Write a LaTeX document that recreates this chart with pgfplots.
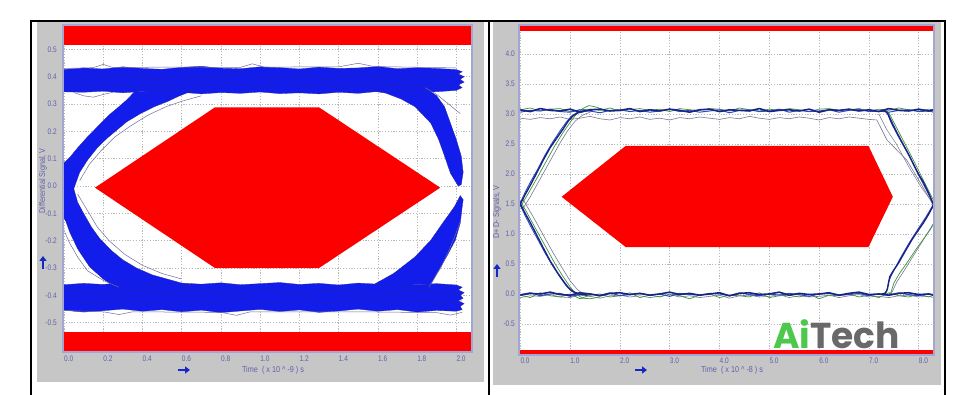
\documentclass[border=0pt]{standalone}
\usepackage{pgfplots}
\pgfplotsset{compat=1.18}
\usepackage{pgfplotstable}
\usetikzlibrary{arrows.meta}
\usepackage{fontspec}
\setmainfont{Liberation Sans}
\newfontfamily\tickfont[FakeStretch=0.82]{Liberation Sans}
\newfontfamily\labfont[FakeStretch=0.85]{Liberation Sans}
\newfontfamily\wmfont{Poppins}

\definecolor{panelgray}{RGB}{198,198,198}
\definecolor{framecol}{RGB}{165,165,212}
\definecolor{tickcol}{RGB}{96,96,170}
\definecolor{gridcol}{RGB}{185,185,185}
\definecolor{maskred}{RGB}{252,0,0}
\definecolor{eyeblue}{RGB}{18,28,235}
\definecolor{eyeedge}{RGB}{40,40,160}
\definecolor{outgray}{RGB}{110,110,155}
\definecolor{tnavy}{RGB}{25,35,130}
\definecolor{tblue}{RGB}{45,75,200}
\definecolor{tgreen}{RGB}{60,150,60}
\definecolor{tgray}{RGB}{120,120,150}
\definecolor{arrowblue}{RGB}{20,40,200}
\definecolor{aigreen}{RGB}{76,200,76}
\definecolor{aigray}{RGB}{105,105,105}

\pgfplotstableread{
t   nav  blu  grn
0.0 3.07 3.03 3.07
0.2 3.04 3.06 3.10
0.4 3.09 3.05 3.05
0.6 3.06 3.08 3.08
0.8 3.05 3.04 3.09
1.0 3.08 3.03 3.04
1.2 3.03 3.07 3.07
1.4 3.07 3.05 3.08
1.6 3.08 3.02 3.06
1.8 3.05 3.06 3.10
2.0 3.06 3.07 3.05
2.2 3.09 3.04 3.07
2.4 3.04 3.06 3.09
2.6 3.07 3.03 3.06
2.8 3.05 3.05 3.08
3.0 3.08 3.08 3.04
3.2 3.06 3.04 3.09
3.4 3.03 3.06 3.07
3.6 3.07 3.03 3.06
3.8 3.08 3.05 3.09
4.0 3.04 3.07 3.08
4.2 3.07 3.02 3.05
4.4 3.06 3.06 3.10
4.6 3.05 3.07 3.07
4.8 3.09 3.04 3.05
5.0 3.04 3.05 3.08
5.2 3.06 3.08 3.06
5.4 3.07 3.03 3.09
5.6 3.05 3.06 3.07
5.8 3.08 3.04 3.04
6.0 3.03 3.05 3.08
6.2 3.07 3.07 3.09
6.4 3.06 3.03 3.06
6.6 3.08 3.06 3.07
6.8 3.05 3.08 3.09
7.0 3.07 3.04 3.05
7.2 3.04 3.05 3.08
7.4 3.09 3.03 3.06
7.6 3.06 3.06 3.10
7.8 3.05 3.07 3.07
8.0 3.08 3.04 3.05
8.2 3.05 3.05 3.08
8.3 3.07 3.03 3.07
}\toptab

\pgfplotstableread{
t   nav   blu   grn   gry
0.0 -0.02 -0.01 -0.02 -0.06
0.2 0.01 0.02 -0.06 -0.03
0.4 0.00 -0.03 0.02 -0.04
0.6 0.03 0.00 -0.03 -0.01
0.8 -0.01 0.01 -0.05 -0.05
1.0 -0.02 -0.04 0.00 -0.06
1.2 0.02 -0.01 -0.08 -0.02
1.4 0.00 0.00 -0.02 -0.04
1.6 -0.03 -0.02 0.00 -0.07
1.8 0.01 0.02 -0.05 -0.03
2.0 0.02 -0.03 -0.03 -0.02
2.2 -0.01 -0.01 0.02 -0.05
2.4 0.01 0.01 -0.06 -0.03
2.6 -0.02 -0.02 -0.02 -0.06
2.8 0.00 0.00 -0.05 -0.04
3.0 0.03 -0.04 0.00 -0.01
3.2 -0.01 0.01 -0.03 -0.05
3.4 0.01 -0.01 -0.08 -0.03
3.6 -0.02 -0.02 -0.02 -0.06
3.8 0.00 0.01 0.00 -0.04
4.0 0.02 0.00 -0.06 -0.02
4.2 -0.03 -0.03 -0.02 -0.07
4.4 0.01 0.02 -0.03 -0.03
4.6 0.02 -0.01 -0.05 -0.02
4.8 -0.01 -0.03 0.02 -0.05
5.0 0.00 0.00 -0.06 -0.04
5.2 0.03 -0.02 -0.03 -0.01
5.4 -0.02 0.01 -0.02 -0.06
5.6 0.01 -0.01 -0.05 -0.03
5.8 -0.01 -0.04 0.00 -0.05
6.0 0.00 0.00 -0.08 -0.04
6.2 0.02 0.01 -0.02 -0.02
6.4 -0.02 -0.02 -0.03 -0.06
6.6 0.01 -0.01 0.00 -0.03
6.8 0.03 0.01 -0.05 -0.01
7.0 -0.01 -0.03 -0.02 -0.05
7.2 0.00 0.00 -0.06 -0.04
7.4 -0.02 -0.02 0.02 -0.06
7.6 0.01 0.02 -0.03 -0.03
7.8 0.02 -0.01 -0.05 -0.02
8.0 -0.01 -0.03 0.00 -0.05
8.2 0.00 0.00 -0.05 -0.04
8.3 -0.02 -0.01 -0.02 -0.06
}\bottab

\pgfplotsset{eyeaxis/.style={
  scale only axis,
  axis line style={draw=none},
  tick style={draw=none},
  grid=major,
  major grid style={gridcol, line width=0.5pt, dash pattern=on 1.2pt off 1.6pt},
  axis background/.style={fill=white},
  ticklabel style={font=\tickfont\fontsize{8}{9}\selectfont, text=tickcol},
  xticklabel style={anchor=north west, inner sep=0pt, yshift=-4pt},
}}

\begin{document}
\begin{tikzpicture}
\useasboundingbox (0,0) rectangle (964pt,395pt);
\fill[white] (0,0) rectangle (964pt,395pt);
\fill[panelgray] (37pt,13pt) rectangle (484pt,373pt);
\fill[panelgray] (493pt,10pt) rectangle (941pt,373pt);
\draw[black, line width=1.3pt] (31pt,0pt) -- (31pt,374pt) -- (945pt,374pt) -- (945pt,0pt);
\draw[black, line width=1.3pt] (489pt,0pt) -- (489pt,374pt);

% ---------------- left: differential eye ----------------
\begin{axis}[eyeaxis, at={(63pt,43pt)}, anchor=south west, width=409pt, height=327pt,
  xmin=-0.005, xmax=2.08, ymin=-0.607, ymax=0.589,
  xtick={0,0.2,0.4,0.6,0.8,1.0,1.2,1.4,1.6,1.8,2.0},
  xticklabels={0.0,0.2,0.4,0.6,0.8,1.0,1.2,1.4,1.6,1.8,2.0},
  ytick={-0.5,-0.4,-0.3,-0.2,-0.1,0,0.1,0.2,0.3,0.4,0.5},
  yticklabels={-0.5,-0.4,-0.3,-0.2,-0.1,0.0,0.1,0.2,0.3,0.4,0.5},
  yticklabel style={anchor=east, inner sep=0pt, xshift=-6pt}]
\addplot[fill=maskred, draw=none] coordinates {(-0.02,0.516) (2.1,0.516) (2.1,0.62) (-0.02,0.62)} -- cycle;
\addplot[fill=maskred, draw=none] coordinates {(-0.02,-0.534) (2.1,-0.534) (2.1,-0.63) (-0.02,-0.63)} -- cycle;
\addplot[fill=maskred, draw=none] coordinates {(0.158,-0.006) (0.77,0.288) (1.30,0.288) (1.918,-0.006) (1.30,-0.300) (0.77,-0.300)} -- cycle;
% top rail
\addplot[fill=eyeblue, draw=eyeedge, line width=0.3pt] coordinates {
(-0.02,0.425) (0.1,0.432) (0.2,0.428) (0.3,0.436) (0.4,0.430) (0.5,0.427) (0.6,0.434) (0.7,0.438) (0.8,0.431) (0.9,0.429) (1.0,0.436) (1.1,0.433) (1.2,0.428) (1.3,0.435) (1.4,0.430) (1.5,0.432) (1.6,0.437) (1.7,0.429) (1.8,0.433) (1.9,0.430) (2.0,0.426)
(2.03,0.418) (2.01,0.41) (2.04,0.40) (2.02,0.39) (2.04,0.38) (2.01,0.37) (2.03,0.36) (2.0,0.35)
(1.9,0.345) (1.8,0.343) (1.7,0.341) (1.6,0.346) (1.5,0.339) (1.4,0.343) (1.3,0.337) (1.2,0.341) (1.1,0.338) (1.0,0.344) (0.9,0.339) (0.8,0.342) (0.7,0.337) (0.6,0.343) (0.5,0.340) (0.4,0.346) (0.3,0.341) (0.2,0.347) (0.1,0.343) (-0.02,0.345)} -- cycle;
% bottom rail
\addplot[fill=eyeblue, draw=eyeedge, line width=0.3pt] coordinates {
(-0.02,-0.362) (0.1,-0.356) (0.2,-0.360) (0.3,-0.353) (0.4,-0.358) (0.5,-0.362) (0.6,-0.355) (0.7,-0.359) (0.8,-0.354) (0.9,-0.361) (1.0,-0.357) (1.1,-0.353) (1.2,-0.360) (1.3,-0.356) (1.4,-0.362) (1.5,-0.355) (1.6,-0.359) (1.7,-0.354) (1.8,-0.361) (1.9,-0.357) (2.0,-0.362)
(2.03,-0.37) (2.01,-0.38) (2.04,-0.39) (2.02,-0.40) (2.035,-0.41) (2.01,-0.42) (2.04,-0.43) (2.02,-0.44) (2.03,-0.452) (2.0,-0.458)
(1.9,-0.455) (1.8,-0.461) (1.7,-0.452) (1.6,-0.458) (1.5,-0.450) (1.4,-0.457) (1.3,-0.462) (1.2,-0.453) (1.1,-0.459) (1.0,-0.451) (0.9,-0.457) (0.8,-0.463) (0.7,-0.454) (0.6,-0.460) (0.5,-0.452) (0.4,-0.458) (0.3,-0.450) (0.2,-0.456) (0.1,-0.461) (-0.02,-0.453)} -- cycle;
% left crossing arms
\addplot[fill=eyeblue, draw=eyeedge, line width=0.3pt] coordinates {
(0.36,0.345) (0.32,0.315) (0.28,0.29) (0.23,0.26) (0.175,0.22) (0.12,0.18) (0.07,0.14) (0.03,0.105) (-0.02,0.07)
(-0.02,-0.09) (0.01,-0.13) (0.03,-0.17) (0.07,-0.23) (0.13,-0.295) (0.2,-0.34) (0.25,-0.365)
(0.65,-0.365) (0.55,-0.345) (0.45,-0.325) (0.37,-0.30) (0.30,-0.27) (0.24,-0.235) (0.18,-0.19) (0.14,-0.15) (0.10,-0.10) (0.07,-0.06) (0.05,-0.01)
(0.08,0.05) (0.12,0.095) (0.17,0.14) (0.22,0.175) (0.27,0.205) (0.32,0.235) (0.39,0.265) (0.46,0.29) (0.53,0.31) (0.58,0.327) (0.66,0.35)} -- cycle;
% right arms
\addplot[fill=eyeblue, draw=eyeedge, line width=0.3pt] coordinates {
(1.55,0.35) (1.64,0.34) (1.72,0.318) (1.79,0.29) (1.87,0.23) (1.91,0.17) (1.94,0.11) (1.97,0.047) (2.01,0.0) (2.025,0.005)
(2.035,0.05) (2.025,0.11) (2.0,0.17) (1.97,0.23) (1.94,0.29) (1.90,0.33) (1.86,0.35)} -- cycle;
\addplot[fill=eyeblue, draw=eyeedge, line width=0.3pt] coordinates {
(1.58,-0.36) (1.68,-0.32) (1.79,-0.259) (1.87,-0.198) (1.93,-0.136) (1.99,-0.076) (2.02,-0.035)
(2.035,-0.05) (2.03,-0.076) (2.02,-0.136) (1.995,-0.198) (1.95,-0.259) (1.90,-0.32) (1.87,-0.36)} -- cycle;
% texture traces inside the rails
\addplot[eyeedge, line width=0.35pt] coordinates {(0,0.40) (0.15,0.395) (0.3,0.405) (0.45,0.392) (0.6,0.403) (0.75,0.396) (0.9,0.407) (1.05,0.394) (1.2,0.402) (1.35,0.393) (1.5,0.405) (1.65,0.397) (1.8,0.404) (1.95,0.395) (2.03,0.40)};
\addplot[eyeedge, line width=0.35pt] coordinates {(0,0.368) (0.2,0.374) (0.35,0.364) (0.5,0.372) (0.7,0.366) (0.85,0.375) (1.0,0.365) (1.2,0.373) (1.4,0.366) (1.6,0.374) (1.8,0.367) (2.02,0.372)};
\addplot[eyeedge, line width=0.35pt] coordinates {(0,-0.42) (0.15,-0.426) (0.3,-0.415) (0.45,-0.428) (0.6,-0.418) (0.75,-0.425) (0.9,-0.414) (1.05,-0.427) (1.2,-0.419) (1.35,-0.428) (1.5,-0.416) (1.65,-0.425) (1.8,-0.418) (1.95,-0.427) (2.03,-0.42)};
\addplot[eyeedge, line width=0.35pt] coordinates {(0,-0.385) (0.2,-0.392) (0.35,-0.381) (0.5,-0.39) (0.7,-0.383) (0.85,-0.393) (1.0,-0.384) (1.2,-0.391) (1.4,-0.382) (1.6,-0.392) (1.8,-0.385) (2.02,-0.39)};
% outlier traces
\addplot[outgray, line width=0.5pt] coordinates {(0.005,-0.17) (0.03,-0.21) (0.07,-0.26) (0.12,-0.31) (0.2,-0.345) (0.28,-0.37)};
\addplot[outgray, line width=0.5pt] coordinates {(0.07,-0.03) (0.12,-0.09) (0.17,-0.15) (0.23,-0.2) (0.31,-0.25) (0.4,-0.29) (0.5,-0.32) (0.6,-0.34)};
\addplot[outgray, line width=0.5pt] coordinates {(0.08,0.02) (0.13,0.08) (0.19,0.13) (0.26,0.18) (0.34,0.22) (0.43,0.26) (0.52,0.29) (0.6,0.31) (0.7,0.33)};
\addplot[outgray, line width=0.5pt] coordinates {(1.84,0.36) (1.9,0.335) (1.96,0.30) (2.02,0.265)};
\addplot[outgray, line width=0.5pt] coordinates {(1.86,-0.37) (1.92,-0.3) (1.96,-0.24) (2.0,-0.17) (2.02,-0.13)};
\addplot[outgray, line width=0.5pt] coordinates {(0,0.43) (0.15,0.433) (0.2,0.445) (0.25,0.433) (0.5,0.435) (0.9,0.434) (0.96,0.447) (1.02,0.435) (1.4,0.436) (1.5,0.449) (1.58,0.437) (2.0,0.432)};
\addplot[outgray, line width=0.5pt] coordinates {(0,-0.455) (0.2,-0.46) (0.28,-0.47) (0.35,-0.46) (0.8,-0.462) (0.88,-0.473) (0.95,-0.46) (1.5,-0.46) (1.9,-0.463) (1.97,-0.472) (2.03,-0.462)};
\addplot[outgray, line width=0.5pt] coordinates {(0.05,0.342) (0.1,0.33) (0.15,0.325) (0.2,0.335) (0.25,0.343)};
\end{axis}
\draw[framecol, line width=1.5pt] (63pt,43pt) rectangle (472pt,370pt);

% ---------------- right: D+ D- eye ----------------
\begin{axis}[eyeaxis, at={(519pt,40pt)}, anchor=south west, width=415pt, height=330pt,
  xmin=-0.026, xmax=8.307, ymin=-1.017, ymax=4.483,
  xtick={0,1,2,3,4,5,6,7,8},
  xticklabels={0.0,1.0,2.0,3.0,4.0,5.0,6.0,7.0,8.0},
  xticklabel style={yshift=1pt},
  ytick={-0.5,0,0.5,1,1.5,2,2.5,3,3.5,4},
  yticklabels={-0.5,0.0,0.5,1.0,1.5,2.0,2.5,3.0,3.5,4.0},
  yticklabel style={anchor=east, inner sep=0pt, xshift=-4pt}]
\addplot[fill=maskred, draw=none] coordinates {(-0.1,4.38) (8.4,4.38) (8.4,4.6) (-0.1,4.6)} -- cycle;
\addplot[fill=maskred, draw=none] coordinates {(-0.1,-0.93) (8.4,-0.93) (8.4,-1.1) (-0.1,-1.1)} -- cycle;
\addplot[fill=maskred, draw=none] coordinates {(0.83,1.62) (2.12,2.47) (6.99,2.47) (7.48,1.62) (6.99,0.78) (2.12,0.78)} -- cycle;
% gray traces
\addplot[tgray, line width=0.6pt] coordinates {(0,2.93) (0.2,2.91) (0.4,2.94) (0.6,2.92) (0.8,2.95) (1.0,2.91) (1.2,2.93) (1.4,2.96) (1.6,2.92) (1.8,2.90) (2.0,2.94) (2.2,2.92) (2.4,2.95) (2.6,2.91) (2.8,2.93) (3.0,2.90) (3.2,2.94) (3.4,2.92) (3.6,2.95) (3.8,2.93) (4.0,2.91) (4.2,2.94) (4.4,2.92) (4.6,2.96) (4.8,2.93) (5.0,2.91) (5.2,2.94) (5.4,2.92) (5.6,2.95) (5.8,2.93) (6.0,2.90) (6.2,2.94) (6.4,2.92) (6.6,2.95) (6.8,2.93) (7.0,2.91) (7.16,2.90) (7.36,2.57) (7.56,2.40) (7.76,2.23) (8.0,1.90) (8.23,1.57) (8.3,1.47)};
\addplot[tgray, line width=0.5pt] coordinates {(7.2,3.0) (7.35,2.75) (7.55,2.5) (7.8,2.12) (8.05,1.78) (8.28,1.52)};
\addplot[tgray, line width=0.6pt] table[x=t, y=gry] {\bottab};
\addplot[tgray, line width=0.6pt] coordinates {(0.05,1.42) (0.2,1.62) (0.4,1.92) (0.6,2.22) (0.8,2.52) (0.95,2.72) (1.1,2.88) (1.25,2.98) (1.4,3.03)};
\addplot[tgray, line width=0.6pt] coordinates {(0.05,1.58) (0.25,1.30) (0.45,1.0) (0.65,0.7) (0.85,0.42) (1.0,0.22) (1.15,0.07) (1.3,-0.02) (1.45,-0.04)};
\addplot[tgray, line width=0.6pt] coordinates {(7.4,-0.03) (7.47,0.04) (7.56,0.2) (7.7,0.38) (7.85,0.58) (8.0,0.78) (8.15,0.98) (8.3,1.18)};
% green traces
\addplot[tgreen, line width=0.7pt] table[x=t, y=grn] {\toptab};
\addplot[tgreen, line width=0.7pt] table[x=t, y=grn] {\bottab};
\addplot[tgreen, line width=0.7pt] coordinates {(0,1.45) (0.15,1.66) (0.3,1.88) (0.5,2.18) (0.7,2.48) (0.85,2.68) (1.0,2.86) (1.12,2.99) (1.25,3.09) (1.38,3.14) (1.5,3.12) (1.65,3.08)};
\addplot[tgreen, line width=0.7pt] coordinates {(0,1.55) (0.15,1.33) (0.3,1.10) (0.5,0.80) (0.7,0.50) (0.85,0.30) (1.0,0.12) (1.12,0.0) (1.25,-0.07) (1.4,-0.08) (1.6,-0.05)};
\addplot[tgreen, line width=0.7pt] coordinates {(7.3,3.07) (7.4,3.02) (7.5,2.86) (7.65,2.62) (7.85,2.30) (8.05,1.97) (8.2,1.72) (8.32,1.52)};
\addplot[tgreen, line width=0.7pt] coordinates {(7.35,-0.02) (7.44,0.02) (7.5,0.18) (7.62,0.35) (7.79,0.55) (7.95,0.75) (8.1,0.92) (8.23,1.07) (8.32,1.2)};
% blue traces
\addplot[tblue, line width=1.0pt] table[x=t, y=blu] {\toptab};
\addplot[tblue, line width=1.0pt] table[x=t, y=blu] {\bottab};
\addplot[tblue, line width=0.9pt] coordinates {(0,1.52) (0.1,1.70) (0.2,1.86) (0.35,2.08) (0.5,2.32) (0.65,2.53) (0.8,2.72) (0.92,2.86) (1.02,2.96) (1.15,3.03) (1.3,3.06)};
\addplot[tblue, line width=0.9pt] coordinates {(0,1.48) (0.1,1.30) (0.2,1.14) (0.35,0.91) (0.5,0.68) (0.65,0.47) (0.8,0.28) (0.92,0.14) (1.02,0.05) (1.15,0.0) (1.3,-0.01)};
\addplot[tblue, line width=0.9pt] coordinates {(7.3,3.06) (7.37,3.03) (7.43,2.93) (7.55,2.72) (7.75,2.40) (7.95,2.06) (8.15,1.74) (8.3,1.50)};
\addplot[tblue, line width=0.9pt] coordinates {(7.3,0.0) (7.36,0.05) (7.40,0.22) (7.48,0.36) (7.62,0.58) (7.8,0.84) (8.0,1.10) (8.15,1.29) (8.3,1.50)};
% navy traces
\addplot[tnavy, line width=1.6pt, line join=round] table[x=t, y=nav] {\toptab};
\addplot[tnavy, line width=1.6pt, line join=round] table[x=t, y=nav] {\bottab};
\addplot[tnavy, line width=1.4pt, line join=round] coordinates {(0,1.50) (0.1,1.66) (0.2,1.81) (0.3,1.97) (0.46,2.23) (0.6,2.44) (0.75,2.62) (0.86,2.75) (0.96,2.88) (1.06,2.97) (1.16,3.02) (1.3,3.05) (1.45,3.06)};
\addplot[tnavy, line width=1.4pt, line join=round] coordinates {(0,1.50) (0.1,1.34) (0.2,1.19) (0.3,1.03) (0.46,0.77) (0.6,0.55) (0.75,0.35) (0.86,0.22) (0.96,0.11) (1.06,0.04) (1.18,0.00) (1.35,-0.02)};
\addplot[tnavy, line width=1.4pt, line join=round] coordinates {(7.25,3.06) (7.33,3.05) (7.38,3.0) (7.46,2.84) (7.6,2.62) (7.82,2.29) (8.0,1.99) (8.09,1.87) (8.2,1.68) (8.29,1.50) (8.32,1.45)};
\addplot[tnavy, line width=1.4pt, line join=round] coordinates {(7.25,0.0) (7.33,0.01) (7.37,0.08) (7.42,0.29) (7.5,0.40) (7.59,0.51) (7.72,0.70) (7.86,0.90) (7.98,1.05) (8.09,1.18) (8.2,1.33) (8.29,1.47) (8.32,1.52)};
\end{axis}
\draw[framecol, line width=1.5pt] (519pt,40pt) rectangle (934pt,370pt);

% axis titles and arrows
\node[font=\labfont\fontsize{8.5}{10}\selectfont, text=tickcol] at (273pt,25pt) {Time\enspace( x 10 \textasciicircum{} -9 ) s};
\node[font=\labfont\fontsize{8.5}{10}\selectfont, text=tickcol, rotate=90] at (43pt,214pt) {Differential Signal, V};
\node[font=\labfont\fontsize{8.5}{10}\selectfont, text=tickcol] at (732pt,25pt) {Time\enspace( x 10 \textasciicircum{} -8 ) s};
\node[font=\labfont\fontsize{8.5}{10}\selectfont, text=tickcol, rotate=90] at (497pt,183pt) {D+\ D-\ Signals, V};
\draw[arrowblue, line width=2.2pt, -{Triangle[length=5pt,width=7pt]}] (178pt,25pt) -- (190pt,25pt);
\draw[arrowblue, line width=2.2pt, -{Triangle[length=5pt,width=7pt]}] (43pt,126pt) -- (43pt,139pt);
\draw[arrowblue, line width=2.2pt, -{Triangle[length=5pt,width=7pt]}] (635pt,25pt) -- (647pt,25pt);
\draw[arrowblue, line width=2.2pt, -{Triangle[length=5pt,width=7pt]}] (497pt,118pt) -- (497pt,131pt);

% watermark
\node[anchor=base west, inner sep=0pt] at (773pt,46pt) {\wmfont\bfseries\fontsize{36}{38}\selectfont\textcolor{aigreen}{Ai}\textcolor{aigray}{Tech}};
\end{tikzpicture}
\end{document}
